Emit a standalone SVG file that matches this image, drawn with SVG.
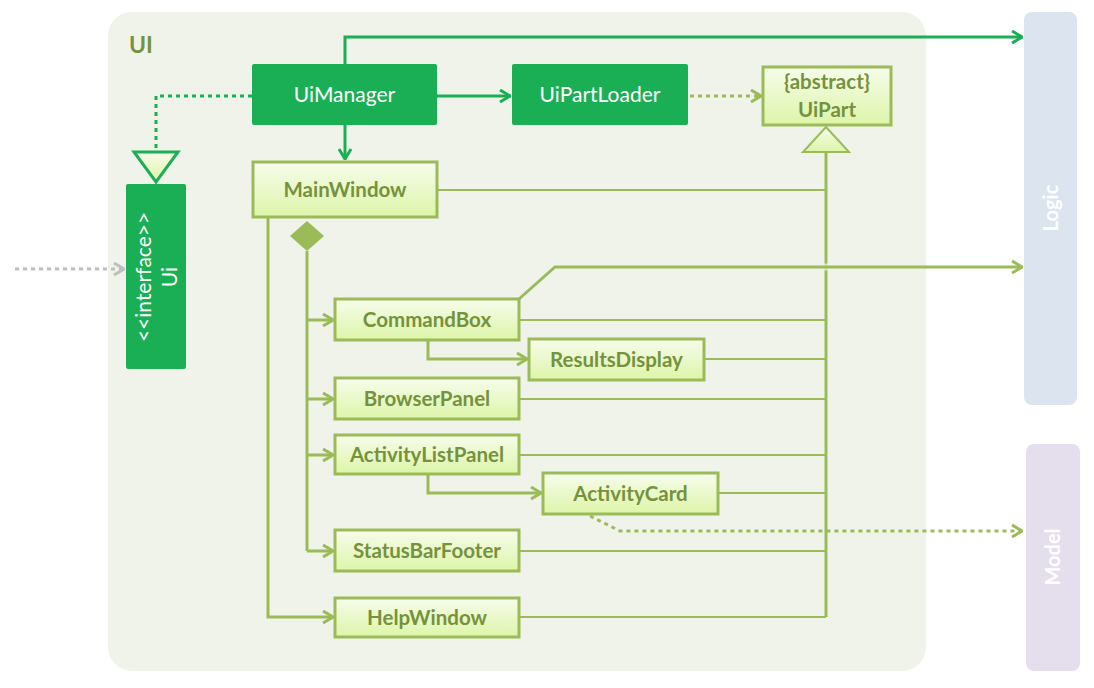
<svg xmlns="http://www.w3.org/2000/svg" width="1094" height="688" viewBox="0 0 1094 688">
  <defs>
    <linearGradient id="lightFill" x1="0" y1="0" x2="0" y2="1">
      <stop offset="0" stop-color="#F7FCEC"/>
      <stop offset="1" stop-color="#DDF5A8"/>
    </linearGradient>
    <marker id="arrDark" viewBox="0 0 12 14" refX="11" refY="7" markerWidth="12" markerHeight="14" markerUnits="userSpaceOnUse" orient="auto">
      <path d="M1,1 L11,7 L1,13" fill="none" stroke="#1BAF55" stroke-width="3"/>
    </marker>
    <marker id="arrOlive" viewBox="0 0 12 14" refX="11" refY="7" markerWidth="12" markerHeight="14" markerUnits="userSpaceOnUse" orient="auto">
      <path d="M1,1 L11,7 L1,13" fill="none" stroke="#9BBB59" stroke-width="3"/>
    </marker>
    <marker id="arrGrey" viewBox="0 0 12 14" refX="11" refY="7" markerWidth="12" markerHeight="14" markerUnits="userSpaceOnUse" orient="auto">
      <path d="M1,1 L11,7 L1,13" fill="none" stroke="#BFBFBF" stroke-width="3"/>
    </marker>
  </defs>
  <style>
    .dark { fill: #1BAF55; }
    .dark-text { fill: #FFFFFF; font-family: Lato, "Open Sans", "Liberation Sans", sans-serif; font-size: 21px; text-anchor: middle; }
    .light { fill: url(#lightFill); stroke: #9BBB59; stroke-width: 3; }
    .light-text { fill: #76923C; font-family: Lato, "Open Sans", "Liberation Sans", sans-serif; font-size: 20.5px; font-weight: bold; text-anchor: middle; }
    .side-text { fill: #FFFFFF; font-family: Lato, "Open Sans", "Liberation Sans", sans-serif; font-size: 20px; font-weight: bold; text-anchor: middle; }
    .c-dark { fill: none; stroke: #1BAF55; stroke-width: 3; }
    .c-olive { fill: none; stroke: #9BBB59; stroke-width: 3; }
    .c-thin { fill: none; stroke: #9BBB59; stroke-width: 2; }
    .dot { stroke-dasharray: 4 4; }
  </style>

  <!-- UI package -->
  <g id="ui-package">
    <rect x="108" y="12" width="818" height="659" rx="24" fill="#F0F3E9"/>
    <text x="129" y="53" fill="#76923C" font-family="Lato, 'Open Sans', 'Liberation Sans', sans-serif" font-size="23" font-weight="bold">UI</text>
  </g>

  <!-- Neighbouring components -->
  <g id="logic">
    <rect x="1024" y="12" width="53" height="393" rx="8" fill="#DCE5EF"/>
    <text class="side-text" transform="translate(1058 208) rotate(-90)">Logic</text>
  </g>
  <g id="model">
    <rect x="1026" y="444" width="54" height="227" rx="8" fill="#E5DEEC"/>
    <text class="side-text" transform="translate(1060 557) rotate(-90)">Model</text>
  </g>

  <!-- Connectors -->
  <g id="connectors">
    <!-- external caller into Ui -->
    <path class="dot" d="M15,269 H124" fill="none" stroke="#BFBFBF" stroke-width="3" marker-end="url(#arrGrey)"/>
    <!-- UiManager realizes Ui -->
    <path class="c-dark dot" d="M252,96 H156 V151"/>
    <polygon points="134,152 178,152 156,182" fill="url(#lightFill)" stroke="#1BAF55" stroke-width="3"/>
    <!-- UiManager to Logic -->
    <path class="c-dark" d="M345,64 V37 H1022" marker-end="url(#arrDark)"/>
    <!-- UiManager to UiPartLoader -->
    <path class="c-dark" d="M437,96 H510" marker-end="url(#arrDark)"/>
    <!-- UiManager to MainWindow -->
    <path class="c-dark" d="M345,125 V159" marker-end="url(#arrDark)"/>
    <!-- UiPartLoader uses UiPart -->
    <path class="c-olive dot" d="M690,96 H761" marker-end="url(#arrOlive)"/>

    <!-- inheritance from UiPart -->
    <path class="c-olive" d="M826,152 V617"/>
    <polygon points="803,152 849,152 826,127" fill="url(#lightFill)" stroke="#9BBB59" stroke-width="2"/>
    <path class="c-thin" d="M437,190 H826"/>
    <path class="c-thin" d="M519,320 H826"/>
    <path class="c-thin" d="M704,359 H826"/>
    <path class="c-thin" d="M519,399 H826"/>
    <path class="c-thin" d="M519,455 H826"/>
    <path class="c-thin" d="M718,493 H826"/>
    <path class="c-thin" d="M519,551 H826"/>
    <path class="c-thin" d="M519,617 H826"/>

    <!-- MainWindow composition -->
    <polygon points="307,221 324,236 307,251 290,236" fill="#9BBB59"/>
    <path class="c-olive" d="M307,251 V551"/>
    <path class="c-olive" d="M307,320 H333" marker-end="url(#arrOlive)"/>
    <path class="c-olive" d="M307,399 H333" marker-end="url(#arrOlive)"/>
    <path class="c-olive" d="M307,455 H333" marker-end="url(#arrOlive)"/>
    <path class="c-olive" d="M307,551 H333" marker-end="url(#arrOlive)"/>
    <path class="c-olive" d="M268,217 V617 H333" marker-end="url(#arrOlive)"/>

    <!-- CommandBox to Logic, with a hop over the UiPart line -->
    <path d="M819,267 H833" stroke="#F0F3E9" stroke-width="7" fill="none" opacity="0.7"/>
    <path class="c-olive" d="M519,299 L555,267 H1022" marker-end="url(#arrOlive)"/>
    <!-- CommandBox to ResultsDisplay -->
    <path class="c-olive" d="M428,340 V359 H527" marker-end="url(#arrOlive)"/>
    <!-- ActivityListPanel to ActivityCard -->
    <path class="c-olive" d="M428,474 V493 H541" marker-end="url(#arrOlive)"/>
    <!-- ActivityCard to Model -->
    <path class="c-olive dot" d="M590,516 L620,531 H1022" marker-end="url(#arrOlive)"/>
  </g>

  <!-- Classes -->
  <g id="ui-interface">
    <rect class="dark" x="126" y="184" width="60" height="185" rx="2"/>
    <text class="dark-text" transform="translate(144 277) rotate(-90)" dy="7">&lt;&lt;interface&gt;&gt;</text>
    <text class="dark-text" transform="translate(170 277) rotate(-90)" dy="7">Ui</text>
  </g>
  <g id="ui-manager">
    <rect class="dark" x="252" y="64" width="185" height="61" rx="2"/>
    <text class="dark-text" x="344.5" y="102">UiManager</text>
  </g>
  <g id="ui-part-loader">
    <rect class="dark" x="512" y="64" width="176" height="61" rx="2"/>
    <text class="dark-text" x="600" y="102">UiPartLoader</text>
  </g>
  <g id="ui-part">
    <rect class="light" x="763" y="67" width="128" height="58"/>
    <text class="light-text" x="827" y="89">{abstract}</text>
    <text class="light-text" x="827" y="117">UiPart</text>
  </g>
  <g id="main-window">
    <rect class="light" x="253" y="162" width="184" height="55"/>
    <text class="light-text" x="345" y="197">MainWindow</text>
  </g>
  <g id="command-box">
    <rect class="light" x="335" y="299" width="184" height="41"/>
    <text class="light-text" x="427" y="327">CommandBox</text>
  </g>
  <g id="results-display">
    <rect class="light" x="529" y="339" width="175" height="41"/>
    <text class="light-text" x="616.5" y="367">ResultsDisplay</text>
  </g>
  <g id="browser-panel">
    <rect class="light" x="335" y="378" width="184" height="41"/>
    <text class="light-text" x="427" y="406">BrowserPanel</text>
  </g>
  <g id="activity-list-panel">
    <rect class="light" x="335" y="435" width="184" height="39"/>
    <text class="light-text" x="427" y="462">ActivityListPanel</text>
  </g>
  <g id="activity-card">
    <rect class="light" x="543" y="473" width="175" height="41"/>
    <text class="light-text" x="630.5" y="501">ActivityCard</text>
  </g>
  <g id="status-bar-footer">
    <rect class="light" x="335" y="530" width="184" height="41"/>
    <text class="light-text" x="427" y="558">StatusBarFooter</text>
  </g>
  <g id="help-window">
    <rect class="light" x="335" y="598" width="184" height="39"/>
    <text class="light-text" x="427" y="625">HelpWindow</text>
  </g>
</svg>
